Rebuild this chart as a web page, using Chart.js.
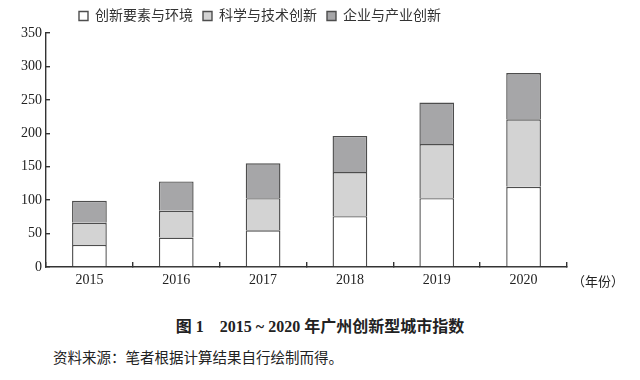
<!DOCTYPE html>
<html>
<head>
<meta charset="utf-8">
<script src="https://cdn.jsdelivr.net/npm/chart.js@4"></script>
<style>
	body { margin: 0; width: 640px; height: 380px; background: #fff; position: relative; overflow: hidden; }
	#box { position: absolute; left: 0; top: 0; width: 640px; height: 300px; }
	.txt { position: absolute; color: #222; font-family: "Liberation Serif", "Noto Sans CJK SC", serif; white-space: nowrap; }
	#unit { left: 572px; top: 271px; font-size: 13px; }
	#caption { left: 0; width: 640px; text-align: center; top: 313px; font-size: 16px; font-weight: bold; }
	#source { left: 53px; top: 346px; font-size: 14.5px; font-family: "Noto Sans CJK SC", sans-serif; }
</style>
</head>
<body>
<div id="box"><canvas id="chart"></canvas></div>
<div class="txt" id="unit">（年份）</div>
<div class="txt" id="caption">图 1&emsp;2015 ~ 2020 年广州创新型城市指数</div>
<div class="txt" id="source">资料来源：笔者根据计算结果自行绘制而得。</div>
<script>
const years = ["2015", "2016", "2017", "2018", "2019", "2020"];
const seriesNames = ["创新要素与环境", "科学与技术创新", "企业与产业创新"];
const environment = [33, 44, 55, 76, 103, 120];
const technology = [33, 40, 48, 66, 81, 101];
const enterprise = [33, 44, 52, 54, 62, 69];
const yTicks = [0, 50, 100, 150, 200, 250, 300, 350];

const fills = ["#ffffff", "#d3d3d3", "#a6a6a8"];
const edge = "#4d4d4d";

Chart.defaults.font.family = "'Liberation Serif', 'Noto Sans CJK SC', serif";
Chart.defaults.font.size = 14;
Chart.defaults.color = "#222";

const ctx = document.getElementById("chart");

new Chart(ctx, {
	type: "bar",
	data: {
		labels: years,
		datasets: [environment, technology, enterprise].map((vals, i) => ({
			label: seriesNames[i],
			data: vals,
			backgroundColor: fills[i],
			borderColor: edge,
			borderWidth: 1.4,
			// skip the bottom edge so stacked joins get a single line
			borderSkipped: "start",
			barPercentage: 0.4,
			categoryPercentage: 1
		}))
	},
	options: {
		responsive: true,
		maintainAspectRatio: false,
		animation: false,
		layout: {
			padding: { left: -47, right: 73, top: -1, bottom: 0 }
		},
		scales: {
			x: {
				stacked: true,
				offset: true,
				border: { color: "#333", width: 1.4 },
				grid: {
					offset: true,
					drawOnChartArea: false,
					drawTicks: true,
					tickLength: -5,
					color: "#333",
					lineWidth: 1.4
				},
				ticks: { padding: 10, color: "#222" },
				afterFit: function(axis) {
					axis.height = 33;
				}
			},
			y: {
				stacked: true,
				min: 0,
				max: 350,
				border: { color: "#333", width: 1.4 },
				grid: {
					drawOnChartArea: false,
					drawTicks: true,
					tickLength: -4,
					color: "#333",
					lineWidth: 1.4
				},
				ticks: {
					stepSize: 50,
					padding: 8,
					color: "#222",
					callback: function(v) {
						return yTicks.includes(v) ? v : "";
					}
				},
				afterFit: function(axis) {
					axis.width = 93;
				}
			}
		},
		plugins: {
			legend: {
				position: "top",
				labels: {
					boxWidth: 9,
					boxHeight: 9,
					padding: 10,
					color: "#333",
					font: { size: 14 }
				}
			},
			tooltip: { enabled: false }
		}
	}
});
</script>
</body>
</html>
